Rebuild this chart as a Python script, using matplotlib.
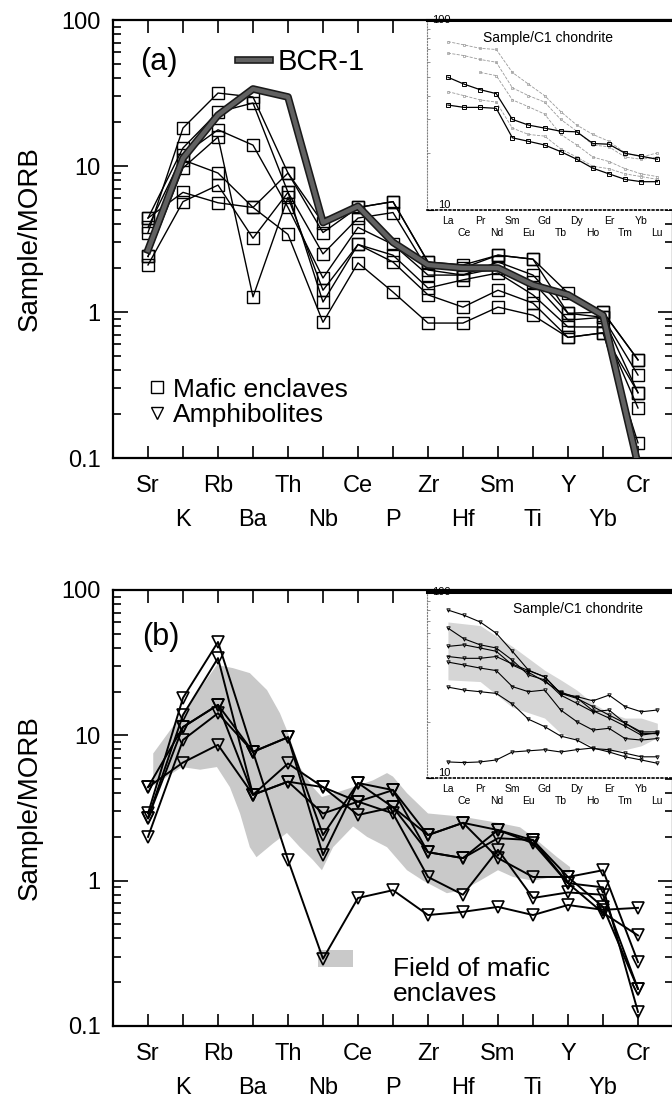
import matplotlib
matplotlib.use("Agg")
import matplotlib.pyplot as plt
import matplotlib.patheffects as pe
import numpy as np
from matplotlib.lines import Line2D
from matplotlib.patches import Rectangle
from matplotlib.ticker import LogLocator, NullFormatter

plt.rcParams["font.family"] = ["Liberation Sans", "DejaVu Sans"]

# MORB-normalised spider diagram elements
elements = ["Sr", "K", "Rb", "Ba", "Th", "Nb", "Ce", "P", "Zr", "Hf", "Sm", "Ti", "Y", "Yb", "Cr"]
ree = ["La", "Ce", "Pr", "Nd", "Sm", "Eu", "Gd", "Tb", "Dy", "Ho", "Er", "Tm", "Yb", "Lu"]

bcr1 = [2.66, 11.3, 22.3, 33.7, 29.7, 4.1, 5.3, 3.0, 2.1, 2.0, 2.0, 1.53, 1.31, 0.95, 0.09]

enclaves = [
    [3.5, 18.2, 31.6, 29.7, 8.95, 3.5, 5.2, 5.7, 2.2, 2.1, 2.45, 2.3, 1.35, 1.0, 0.47],
    [4.4, 13.3, 23.4, 27.0, 6.6, 2.5, 4.4, 4.8, 1.94, 1.79, 2.2, 1.79, 0.98, 0.92, 0.37],
    [3.8, 11.9, 17.7, 13.9, 5.2, 1.71, 3.8, 2.9, 1.79, 1.79, 2.0, 1.6, 0.88, 0.92, 0.28],
    [2.4, 9.7, 15.8, 1.27, 6.1, 1.41, 2.9, 2.45, 1.46, 1.66, 1.85, 1.31, 0.79, 0.79, 0.22],
    [2.1, 5.7, 7.4, 3.2, 6.6, 1.17, 2.9, 2.2, 1.31, 1.08, 1.41, 1.15, 0.67, 0.72, 0.127],
    [4.4, 6.6, 5.6, 5.2, 3.4, 0.85, 2.17, 1.37, 0.84, 0.84, 1.08, 0.95, 0.67, 0.72, 0.28],
    [2.4, 11.0, 8.95, 5.2, 8.95, 4.07, 5.2, 5.7, 2.2, 2.0, 2.45, 2.3, 0.98, 1.0, 0.47],
]

amphibolites = [
    [2.9, 18.1, 43.9, 7.7, 9.7, 2.06, 4.7, 4.2, 2.06, 2.5, 2.23, 1.81, 0.96, 0.9, 0.125],
    [2.7, 13.8, 34.0, 3.9, 6.4, 4.4, 2.83, 3.2, 1.57, 1.43, 1.96, 1.9, 1.06, 1.18, 0.275],
    [4.4, 11.4, 16.2, 3.9, 4.8, 2.9, 3.5, 2.9, 1.06, 0.8, 1.63, 0.76, 0.83, 0.8, 0.18],
    [2.0, 9.3, 14.2, 7.7, 9.7, 1.5, 4.7, 3.2, 2.06, 2.5, 1.43, 1.06, 1.06, 0.66, 0.18],
    [4.4, 6.5, 8.6, 3.9, 4.8, 4.4, 3.5, 4.2, 1.57, 1.43, 2.23, 1.9, 0.96, 0.6, 0.42],
    [2.7, 11.4, 16.2, 7.7, 1.39, 0.29, 0.76, 0.86, 0.58, 0.61, 0.66, 0.58, 0.68, 0.63, 0.65],
]

# field of mafic enclaves (element index, value)
field_upper_x = [0.15, 0.97, 1.97, 2.43, 2.91, 3.4, 3.77, 4.0, 4.34, 4.71, 4.97, 5.29, 5.86,
                 6.43, 6.83, 7.0, 7.4, 8.0, 9.0, 10.0, 10.63, 11.0, 11.69, 12.06]
field_upper_y = [7.5, 14.0, 30.5, 29.0, 26.8, 20.5, 14.2, 10.4, 6.05, 4.4, 3.76, 3.97, 4.4,
                 4.9, 5.5, 5.2, 4.0, 2.9, 2.75, 2.5, 2.33, 2.0, 1.45, 1.24]
field_lower_x = [0.15, 0.97, 1.49, 1.97, 2.34, 2.63, 2.91, 3.1, 3.57, 3.97, 4.34, 4.71, 4.97,
                 5.29, 5.86, 6.26, 6.83, 7.4, 7.86, 8.54, 9.0, 9.49, 10.0, 10.43, 11.0, 11.57, 12.06]
field_lower_y = [4.5, 6.05, 5.8, 6.05, 4.4, 2.9, 1.7, 1.45, 1.8, 2.13, 1.7, 1.39, 1.18,
                 1.7, 2.36, 2.0, 1.7, 1.18, 1.0, 0.82, 0.86, 1.0, 1.18, 1.06, 1.0, 1.06, 1.12]

# chondrite-normalised REE insets
inset_a_dark = [
    [50, 46, 43, 41, 30, 28, 27, 26, 25.8, 22.4, 22.2, 19.9, 19.2, 18.5],
    [35.7, 34.7, 34.7, 34.3, 24, 23, 22, 20.3, 18.5, 16.6, 15.5, 14.5, 14.1, 14.1],
]
inset_a_faint = [
    [77, 74, 71, 70, 53, 46, 40, 33, 28, 25, 23, 20, 19, 20],
    [67, 65, 62, 60, 44, 40, 37, 30, 26, 22, 21.5, 19, 18.5, 19],
    [np.nan, np.nan, 53, 51, 38, 35, 32, 25, 22, 19, 18, 16.5, 15.5, 15],
    [42, 40, 38, 37, 27, 25, 24.5, 21, 19, 17, 16.5, 15.5, 15, 14.5],
]
inset_b_lines = [
    [80, 75, 69, 60, 48, 38, 35, 28.5, 27.4, 26, 27.9, 24.2, 22.7, 23.2],
    [64, 56, 52, 50, 43, 35.8, 33.7, 27.9, 25.2, 22.7, 23.2, 19.7, 17.7, 17.7],
    [51, 52, 50, 48, 40.5, 37, 33, 29, 27, 23, 21, 19, 17, 17.5],
    [45, 44, 44, 45, 41, 37.8, 35, 28.5, 26.8, 24.2, 21.8, 19.7, 17.4, 17.3],
    [42, 40.5, 39, 37.8, 31, 29.1, 29.7, 23.2, 20.1, 18.1, 18.5, 16.3, 16, 16.3],
    [30.8, 29.7, 29.1, 28.5, 25, 20.7, 18.9, 16.8, 16, 14.4, 14.2, 13.6, 13, 13],
    [12.2, 12.1, 12.2, 12.5, 13.8, 14.0, 14.2, 13.8, 14.2, 14.5, 13.8, 13, 12.5, 12],
]
inset_field_x = [0, 2, 4, 6, 7, 8, 9, 10, 11, 12, 13]
inset_field_upper = [69, 66, 51, 38, 33.7, 29.7, 25.2, 22.5, 21, 21, 19.7]
inset_field_lower = [33.7, 33, 24, 21, 17.4, 16, 14.9, 13.8, 14.2, 14.9, 16.5]

FIELD_COLOR = "#c9c9c9"


def style_main(ax):
    ax.set_yscale("log")
    ax.set_ylim(0.1, 100)
    ax.set_xlim(-1, 15)
    x = np.arange(len(elements))
    ax.set_xticks(x[::2], elements[::2])
    ax.set_xticks(x[1::2], elements[1::2], minor=True)
    ax.set_yticks([0.1, 1, 10, 100], ["0.1", "1", "10", "100"])
    ax.yaxis.set_minor_locator(LogLocator(base=10, subs=range(2, 10)))
    ax.yaxis.set_minor_formatter(NullFormatter())
    ax.tick_params(axis="both", which="both", direction="in", top=True, right=True, width=1.2)
    ax.tick_params(axis="x", which="both", length=9, labelsize=17)
    ax.tick_params(axis="x", which="major", pad=12)
    ax.tick_params(axis="x", which="minor", pad=37)
    ax.tick_params(axis="y", which="major", length=11, pad=9, labelsize=17)
    ax.tick_params(axis="y", which="minor", length=6)
    for spine in ax.spines.values():
        spine.set_linewidth(1.6)
    ax.set_ylabel("Sample/MORB", fontsize=20)
    ax.yaxis.set_label_coords(-0.125, 0.5)


def style_inset(ins, title_x, title_y):
    ins.set_yscale("log")
    ins.set_ylim(10, 100)
    ins.set_xlim(-1.3, 13.91)
    r = np.arange(len(ree))
    ins.set_xticks(r[::2], ree[::2])
    ins.set_xticks(r[1::2], ree[1::2], minor=True)
    ins.tick_params(axis="x", which="both", length=0, labelsize=7.5)
    ins.tick_params(axis="x", which="major", pad=4)
    ins.tick_params(axis="x", which="minor", pad=13)
    ins.set_yticks([10, 100], ["10", "100"])
    ins.yaxis.set_minor_formatter(NullFormatter())
    ins.tick_params(axis="y", which="major", direction="in", length=5, pad=-17, labelsize=8)
    ins.tick_params(axis="y", which="minor", direction="in", length=2, color="0.5")
    for lab in ins.get_yticklabels():
        lab.set_verticalalignment("bottom" if lab.get_text() == "10" else "center")
    ins.spines["right"].set_visible(False)
    ins.spines["top"].set_linewidth(2.2)
    ins.spines["bottom"].set_linestyle(":")
    ins.spines["bottom"].set_linewidth(1.2)
    ins.spines["left"].set_linestyle(":")
    ins.spines["left"].set_color("0.5")
    ins.text(title_x, title_y, "Sample/C1 chondrite", transform=ins.transAxes,
             fontsize=10, va="center", ha="left")


fig = plt.figure(figsize=(6.72, 11.02), dpi=100)
ax_a = fig.add_axes([0.16815, 0.58439, 0.83333, 0.39746])
ax_b = fig.add_axes([0.16815, 0.06897, 0.83333, 0.39564])
x = np.arange(len(elements))

# (a) mafic enclaves
style_main(ax_a)
for vals in enclaves:
    ax_a.plot(x, vals, color="black", lw=1.0, marker="s", ms=9, mfc="none", mec="black", mew=1.0, zorder=3)
bcr_effects = [pe.Stroke(linewidth=5.5, foreground="0.1"), pe.Normal()]
ax_a.plot(x, bcr1, color="0.38", lw=3.2, path_effects=bcr_effects, zorder=4)
ax_a.text(0.048, 0.904, "(a)", transform=ax_a.transAxes, fontsize=22, va="center", ha="left")

bcr_handle = Line2D([], [], color="0.38", lw=3.2, path_effects=bcr_effects)
leg_bcr = ax_a.legend([bcr_handle], ["BCR-1"], loc="center left", bbox_to_anchor=(0.223, 0.904),
                      frameon=False, fontsize=21, handlelength=1.1, handletextpad=0.25,
                      borderpad=0, borderaxespad=0)
ax_a.add_artist(leg_bcr)
sym_handles = [
    Line2D([], [], ls="none", marker="s", ms=8, mfc="none", mec="black", mew=1.0),
    Line2D([], [], ls="none", marker="v", ms=8, mfc="none", mec="black", mew=1.0),
]
ax_a.legend(sym_handles, ["Mafic enclaves", "Amphibolites"], loc="center left",
            bbox_to_anchor=(0.064, 0.127), frameon=False, fontsize=19, handlelength=0.6,
            handletextpad=0.3, labelspacing=0.05, borderpad=0, borderaxespad=0)

# (b) amphibolites
style_main(ax_b)
ax_b.fill(np.r_[field_upper_x, field_lower_x[::-1]], np.r_[field_upper_y, field_lower_y[::-1]],
          color=FIELD_COLOR, lw=0, zorder=1)
for vals in amphibolites:
    ax_b.plot(x, vals, color="black", lw=1.4, marker="v", ms=9, mfc="none", mec="black", mew=1.2, zorder=3)
ax_b.text(0.052, 0.892, "(b)", transform=ax_b.transAxes, fontsize=22, va="center", ha="left")
ax_b.add_patch(Rectangle((0.366, 0.135), 0.0625, 0.039, transform=ax_b.transAxes,
                         facecolor=FIELD_COLOR, edgecolor="none"))
ax_b.text(0.5, 0.103, "Field of mafic\nenclaves", transform=ax_b.transAxes, fontsize=19,
          va="center", ha="left", linespacing=1.05)

# insets
ins_a = fig.add_axes([0.6354, 0.8094, 0.3646, 0.1724])
style_inset(ins_a, 0.229, 0.905)
r = np.arange(len(ree))
for vals in inset_a_faint:
    ins_a.plot(r, vals, color="0.6", lw=0.6, ls="--", marker="s", ms=2, mfc="none", mew=0.5)
for vals in inset_a_dark:
    ins_a.plot(r, vals, color="black", lw=0.9, marker="s", ms=2.5, mfc="none", mew=0.7)

ins_b = fig.add_axes([0.6354, 0.29401, 0.3646, 0.16878])
style_inset(ins_b, 0.351, 0.909)
ins_b.fill_between(inset_field_x, inset_field_lower, inset_field_upper, color="#d6d6d6", lw=0)
for vals in inset_b_lines:
    ins_b.plot(r, vals, color="black", lw=0.8, marker="v", ms=2.5, mfc="none", mew=0.6)

fig.savefig("out.png", dpi=100)
